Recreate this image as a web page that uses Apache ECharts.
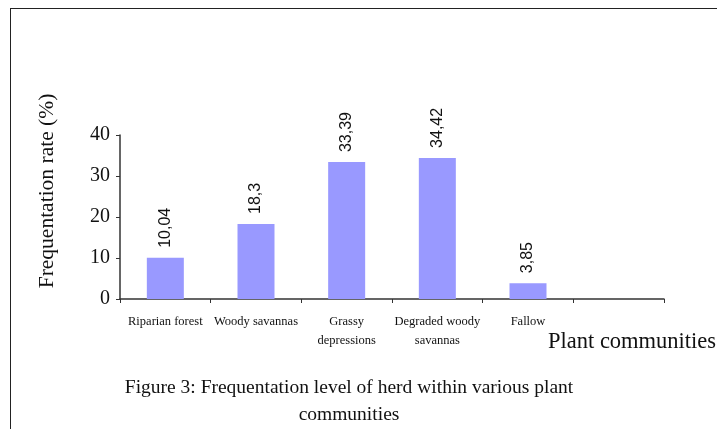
<!DOCTYPE html>
<html>
<head>
    <meta charset="utf-8" />
    <title>Frequentation level</title>
    <script src="https://cdn.jsdelivr.net/npm/echarts@6/dist/echarts.min.js"></script>
    <style>
        body { margin: 0; background: #fff; }
        #frame { position: absolute; left: 10px; top: 8px; width: 720px; height: 430px;
                 border-top: 1.5px solid #222; border-left: 1.5px solid #222; }
        #chart { position: absolute; left: 0; top: 0; width: 717px; height: 429px; }
    </style>
</head>
<body>
    <div id="frame"></div>
    <div id="chart"></div>
    <script type="text/javascript">
        // data
        var categories = ['Riparian forest', 'Woody savannas', 'Grassy\ndepressions', 'Degraded woody\nsavannas', 'Fallow', ''];
        var rates = [10.04, 18.3, 33.39, 34.42, 3.85, null];
        var yTicks = [0, 10, 20, 30, 40];

        var serif = '"Liberation Serif", "DejaVu Serif", serif';

        var myChart = echarts.init(document.getElementById('chart'));
        myChart.setOption({
            animation: false,
            title: {
                text: 'Figure 3: Frequentation level of herd within various plant\ncommunities',
                left: 344,
                textAlign: 'center',
                top: 369,
                textStyle: {
                    fontFamily: serif,
                    fontWeight: 'normal',
                    fontSize: 19.5,
                    color: '#111',
                    lineHeight: 27
                }
            },
            grid: {
                left: 120,
                top: 135,
                right: 53,
                bottom: 130
            },
            xAxis: {
                type: 'category',
                data: categories,
                axisLine: { lineStyle: { color: '#333', width: 1.5 } },
                axisTick: { show: true, alignWithLabel: false, length: 4, lineStyle: { color: '#333' } },
                axisLabel: {
                    interval: 0,
                    margin: 13,
                    fontFamily: serif,
                    fontSize: 12.5,
                    color: '#111',
                    lineHeight: 19
                }
            },
            yAxis: {
                type: 'value',
                min: yTicks[0],
                max: yTicks[yTicks.length - 1],
                interval: 10,
                splitLine: { show: false },
                axisLine: { show: true, lineStyle: { color: '#333', width: 1.5 } },
                axisTick: { show: true, length: 4, lineStyle: { color: '#333' } },
                axisLabel: {
                    margin: 10,
                    fontFamily: serif,
                    fontSize: 20,
                    color: '#111',
                    formatter: function (v) {
                        return yTicks.indexOf(v) >= 0 ? String(v) : '';
                    }
                }
            },
            graphic: [{
                type: 'text',
                x: 47,
                y: 191,
                rotation: Math.PI / 2,
                style: {
                    text: 'Frequentation rate (%)',
                    font: '21.5px ' + serif,
                    fill: '#111',
                    align: 'center',
                    verticalAlign: 'middle'
                }
            }, {
                type: 'text',
                left: 548,
                top: 331,
                style: {
                    text: 'Plant communities',
                    font: '22.5px ' + serif,
                    fill: '#111'
                }
            }],
            series: [{
                type: 'bar',
                data: rates,
                barWidth: 37,
                itemStyle: { color: '#9999FF' },
                label: {
                    show: true,
                    position: 'top',
                    rotate: 90,
                    align: 'left',
                    verticalAlign: 'middle',
                    distance: 10,
                    fontFamily: '"Liberation Sans", Arial, sans-serif',
                    fontSize: 16,
                    color: '#111',
                    formatter: function (p) {
                        return p.value == null ? '' : String(p.value).replace('.', ',');
                    }
                }
            }]
        });
    </script>
</body>
</html>
